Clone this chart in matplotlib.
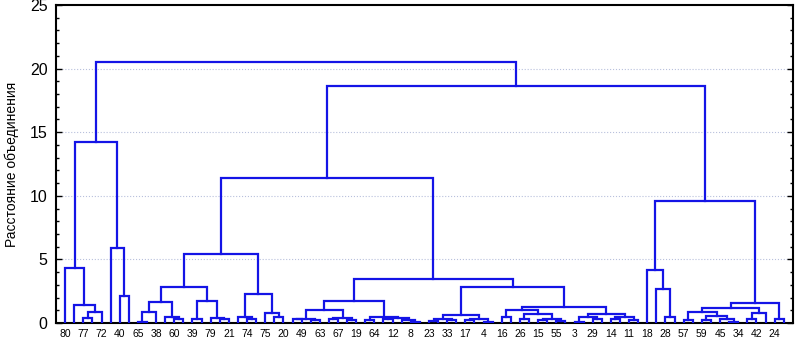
import numpy as np
import matplotlib
matplotlib.use('Agg')
import matplotlib.pyplot as plt
from matplotlib.ticker import MultipleLocator

plt.rcParams['font.family'] = ['Liberation Sans', 'DejaVu Sans']

# leaves sit at positions 1..80, only odd positions carry a label
leaf_labels = [80, 77, 72, 40, 65, 38, 60, 39, 79, 21, 74, 75, 20, 49, 63, 67,
               19, 64, 12, 8, 23, 33, 17, 4, 16, 26, 15, 55, 3, 29, 14, 11,
               18, 28, 57, 59, 45, 34, 42, 24]
n_leaves = 80

# linkage rows: positive id = leaf position, negative id = earlier row (1-based)
merge_left = [3, -1, 2, 1, 7, 6, -4,
              9, -8, 13, 12, -9, 15, 18, 17, -13, -12,
              21, 20, 24, 23, -19, -17,
              26, 28, -24, 30, 32, -27, -26, 34, 36, 39, 38, -32, -31, -30,
              41, 43, -38, 45, 47, -41, -40, 49, 51, 53, 55, -47, -46, -45,
              57, 59, -52, 61, 63, -55, -54, -51, -44, -37, -23,
              67, 66, 65,
              69, 71, 74, 73, -67, -66, 76, -72, -71, 79, -74, -65, -62, -7]
merge_right = [4, 5, -2, -3, 8, -5, -6,
               10, 11, 14, -10, -11, 16, 19, -14, -15, -16,
               22, -18, 25, -20, -21, -22,
               27, 29, -25, 31, 33, -28, -29, 35, 37, 40, -33, -34, -35, -36,
               42, 44, -39, 46, 48, -42, -43, 50, 52, 54, 56, -48, -49, -50,
               58, 60, -53, 62, 64, -56, -57, -58, -59, -60, -61,
               68, -63, -64,
               70, 72, 75, -68, -69, -70, 77, 78, -73, 80, -75, -76, -77, -78]
merge_height = [0.4, 0.85, 1.45, 4.3, 2.1, 5.9, 14.2,
                0.1, 0.9, 0.3, 0.45, 1.65, 0.3, 0.3, 0.4, 1.75, 2.8,
                0.35, 0.5, 0.45, 0.8, 2.3, 5.45,
                0.3, 0.2, 0.35, 0.3, 0.25, 0.4, 1.0, 0.2, 0.3, 0.05, 0.25, 0.4, 0.5, 1.75,
                0.15, 0.2, 0.35, 0.25, 0.1, 0.3, 0.65, 0.5, 0.3, 0.2, 0.15, 0.3, 0.7, 1.0,
                0.1, 0.3, 0.5, 0.3, 0.2, 0.45, 0.7, 1.25, 2.8, 3.45, 11.4,
                0.45, 2.65, 4.2,
                0.2, 0.25, 0.05, 0.3, 0.55, 0.85, 0.35, 0.8, 1.2, 0.3, 1.6, 9.6, 18.6, 20.5]

fig = plt.figure(figsize=(7.96, 3.42), dpi=100)
ax = fig.add_axes([0.0704, 0.0556, 0.9256, 0.9298])

node_x = {}
node_h = {}


def get_node(i):
    if i > 0:
        return float(i), 0.0
    return node_x[-i], node_h[-i]


line_col = '#1414e6'
for k in range(len(merge_height)):
    xl, hl = get_node(merge_left[k])
    xr, hr = get_node(merge_right[k])
    h = merge_height[k]
    ax.plot([xl, xl, xr, xr], [hl, h, h, hr], color=line_col, lw=1.6,
            solid_joinstyle='miter', zorder=3)
    node_x[k + 1] = (xl + xr) / 2.0
    node_h[k + 1] = h

ax.set_xlim(0, n_leaves + 1)
ax.set_ylim(0, 25)

# grid
for g in [5, 10, 15, 20]:
    ax.axhline(g, color='#b8c0dc', lw=0.8, ls=':', zorder=1)

ax.set_xticks(np.arange(1, n_leaves + 1, 2))
ax.set_xticklabels([str(s) for s in leaf_labels], fontsize=7.5)
ax.tick_params(axis='x', length=0, pad=4)

ax.yaxis.set_major_locator(MultipleLocator(5))
ax.yaxis.set_minor_locator(MultipleLocator(1))
ax.tick_params(axis='y', which='both', direction='in', left=True, right=True,
               labelsize=11.5, pad=6)
ax.tick_params(axis='y', which='major', length=4, width=1)
ax.tick_params(axis='y', which='minor', length=2.5, width=1)

for sp in ax.spines.values():
    sp.set_linewidth(1.5)
    sp.set_color('black')

ax.set_ylabel('Расстояние объединения', fontsize=10, labelpad=8)

plt.savefig('out.png', dpi=100)
